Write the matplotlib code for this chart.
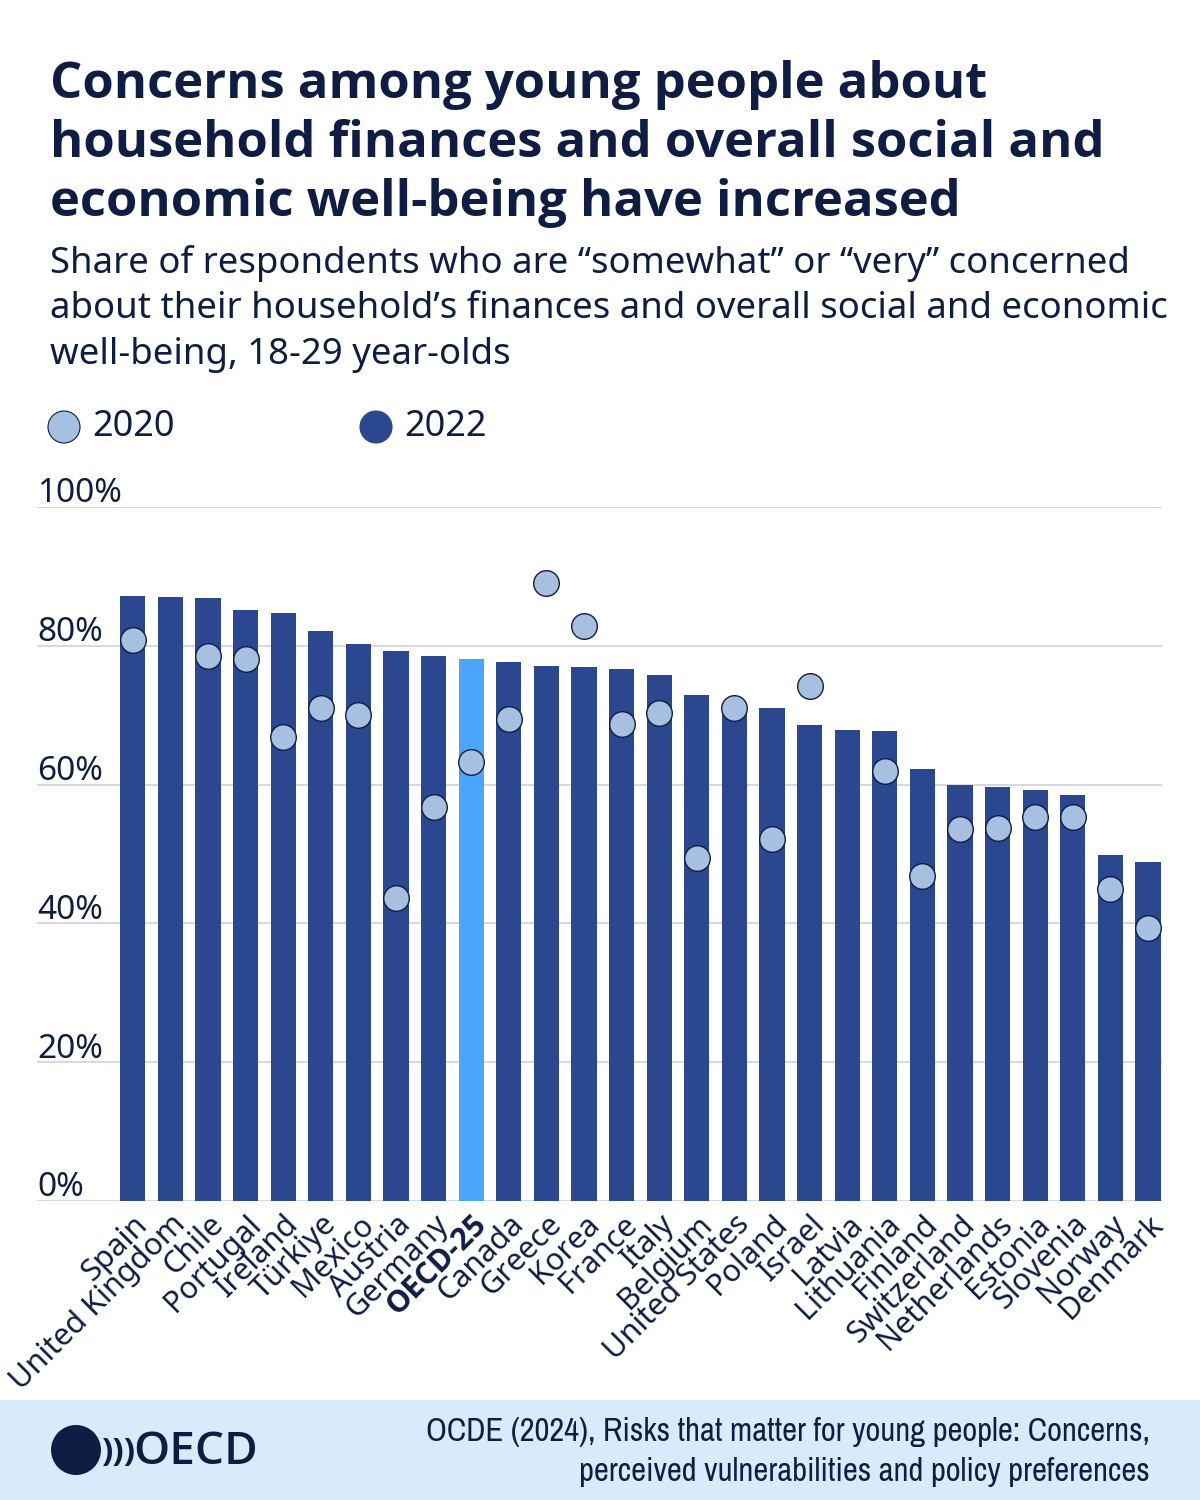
import matplotlib.pyplot as plt
import matplotlib.transforms as mtransforms
from matplotlib import font_manager
from matplotlib.patches import Rectangle, Circle

countries = ["Spain", "United Kingdom", "Chile", "Portugal", "Ireland", "Türkiye",
             "Mexico", "Austria", "Germany", "OECD-25", "Canada", "Greece", "Korea",
             "France", "Italy", "Belgium", "United States", "Poland", "Israel", "Latvia",
             "Lithuania", "Finland", "Switzerland", "Netherlands", "Estonia", "Slovenia",
             "Norway", "Denmark"]
val_2022 = [87.2, 87.0, 86.9, 85.2, 84.7, 82.2, 80.3, 79.3, 78.6, 78.1, 77.6, 77.1, 77.0,
            76.7, 75.8, 72.9, 71.8, 71.1, 68.6, 67.8, 67.7, 62.3, 59.9, 59.6, 59.2, 58.5,
            49.9, 48.9]
val_2020 = [80.8, None, 78.5, 78.1, 66.8, 71.0, 70.0, 43.7, 56.8, 63.3, 69.4, 89.0, 82.8,
            68.7, 70.3, 49.4, 71.0, 52.1, 74.2, None, 62.0, 46.8, 53.6, 53.7, 55.3, 55.4,
            45.0, 39.3]
yticks = [0, 20, 40, 60, 80, 100]

NAVY = "#0f1d45"
BAR = "#2a4790"
HIGHLIGHT = "#4ba6fb"
DOT = "#a8c0e0"

plt.rcParams['font.family'] = ['Noto Sans', 'DejaVu Sans']
BOLD = ['Open Sans', 'Noto Sans', 'DejaVu Sans']

# pick a narrow face for the source note if one is installed
names = sorted({f.name for f in font_manager.fontManager.ttflist})
narrow = [n for n in names if "Narrow" in n or "Condensed" in n]
SOURCE_FONT = narrow[:1] + ['Noto Sans', 'DejaVu Sans']

fig = plt.figure(figsize=(12, 15), dpi=100)
fig.patch.set_facecolor("white")

def px(xp, yp):
    # pixel position (from top-left) -> inches for dpi_scale_trans
    return xp / 100, (1500 - yp) / 100

# title and subtitle
title = ("Concerns among young people about\nhousehold finances and overall social and\n"
         "economic well-being have increased")
fig.text(0.042, 0.960, title, fontsize=36.5, fontweight="bold", color=NAVY,
         va="top", ha="left", linespacing=1.24, family=BOLD)
subtitle = ("Share of respondents who are \u201csomewhat\u201d or \u201cvery\u201d concerned\n"
            "about their household\u2019s finances and overall social and economic\n"
            "well-being, 18-29 year-olds")
fig.text(0.042, 0.837, subtitle, fontsize=26.3, color=NAVY, va="top", ha="left",
         linespacing=1.36)

# legend
fig.patches.append(Circle(px(64, 427), 0.16, transform=fig.dpi_scale_trans,
                          facecolor=DOT, edgecolor=NAVY, lw=0.8))
fig.text(92 / 1200, 1 - 427 / 1500, "2020", fontsize=26, color=NAVY, va="center")
fig.patches.append(Circle(px(376, 427), 0.16, transform=fig.dpi_scale_trans,
                          facecolor=BAR, edgecolor=BAR, lw=0.8))
fig.text(404 / 1200, 1 - 427 / 1500, "2022", fontsize=26, color=NAVY, va="center")

ax = fig.add_axes([37 / 1200, 1 - 1201 / 1500, 1125 / 1200, (1201 - 507) / 1500])
x = list(range(len(countries)))
colors = [HIGHLIGHT if c == "OECD-25" else BAR for c in countries]
ax.bar(x, val_2022, width=0.67, color=colors, zorder=2)

dx = [i for i, v in zip(x, val_2020) if v is not None]
dy = [v for v in val_2020 if v is not None]
ax.scatter(dx, dy, s=340, facecolor=DOT, edgecolor=NAVY, linewidth=1.0, zorder=3,
           clip_on=False)

ax.set_xlim(-2.55, 27.37)
ax.set_ylim(0, 100)
for s in ax.spines.values():
    s.set_visible(False)
ax.set_yticks(yticks)
ax.yaxis.grid(True, color="#d3d3e3", lw=1.3, zorder=0)
ax.tick_params(axis="y", left=False, labelleft=False)
trans = mtransforms.blended_transform_factory(ax.transAxes, ax.transData)
for t in yticks:
    ax.text(0.0, t - 0.5, f"{t}%", transform=trans, fontsize=24, color=NAVY,
            ha="left", va="bottom")

ax.set_xticks(x)
ax.set_xticklabels(countries, rotation=45, ha="right", va="top",
                   rotation_mode="anchor", fontsize=22, color=NAVY)
for lbl in ax.get_xticklabels():
    if lbl.get_text() == "OECD-25":
        lbl.set_fontweight("bold")
        lbl.set_family(BOLD)
ax.tick_params(axis="x", length=0, pad=6)

# footer
fig.patches.append(Rectangle((0, 0), 1, 100 / 1500, transform=fig.transFigure,
                             facecolor="#d8ebfa", edgecolor="none", zorder=0))
fig.patches.append(Circle(px(76, 1450), 0.25, transform=fig.dpi_scale_trans,
                          facecolor=NAVY, edgecolor="none"))
fig.text(101 / 1200, 1 - 1452 / 1500, ")))", fontsize=24, color=NAVY, va="center",
         ha="left", fontweight="bold", family=BOLD)
fig.text(133 / 1200, 1 - 1452 / 1500, "OECD", fontsize=33, color=NAVY, va="center",
         ha="left", fontweight="semibold", family=BOLD)
fig.text(1150 / 1200, 1 - 1452 / 1500,
         "OCDE (2024), Risks that matter for young people: Concerns,\n"
         "perceived vulnerabilities and policy preferences",
         fontsize=23.5, color=NAVY, va="center", ha="right", linespacing=1.38,
         family=SOURCE_FONT, fontstretch="condensed")

fig.savefig("out.png", dpi=100)
